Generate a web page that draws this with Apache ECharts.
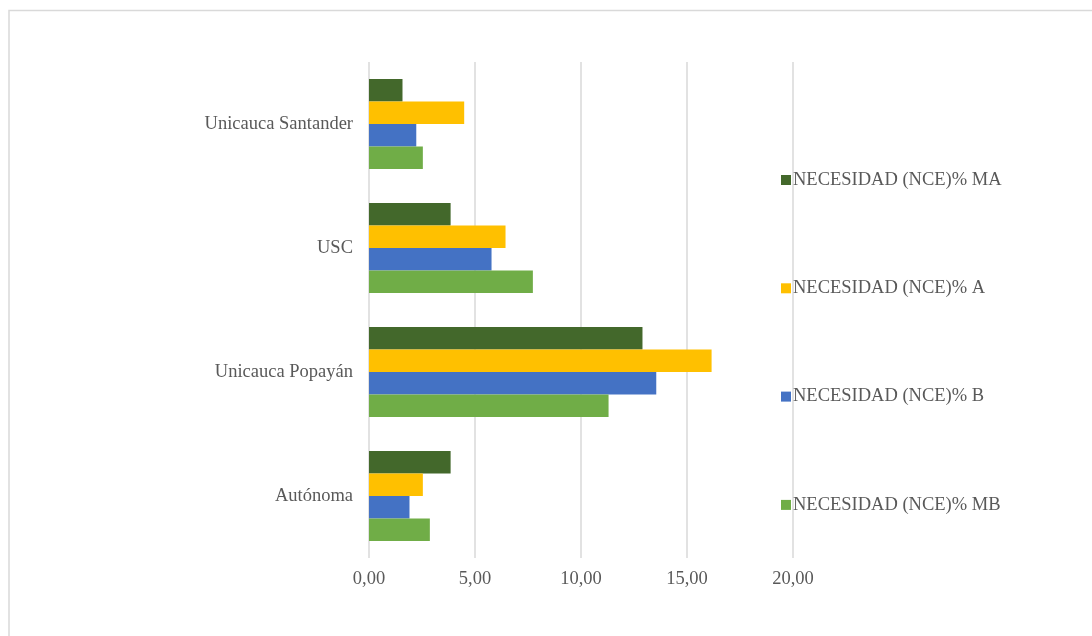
<!DOCTYPE html>
<html>
<head>
<meta charset="utf-8">
<script src="https://cdn.jsdelivr.net/npm/echarts@6/dist/echarts.min.js"></script>
<style>
  html, body { margin: 0; padding: 0; background: #fff; }
  #chart { width: 1092px; height: 636px; }
</style>
</head>
<body>
<div id="chart"></div>
<script>
const categories = ['Autónoma', 'Unicauca Popayán', 'USC', 'Unicauca Santander'];
// top to bottom within each group: MA, A, B, MB
const seriesNames = ['NECESIDAD (NCE)% MA', 'NECESIDAD (NCE)% A', 'NECESIDAD (NCE)% B', 'NECESIDAD (NCE)% MB'];
const valuesMA = [3.85, 12.9, 3.85, 1.58];
const valuesA = [2.54, 16.16, 6.44, 4.49];
const valuesB = [1.91, 13.55, 5.78, 2.23];
const valuesMB = [2.87, 11.3, 7.73, 2.54];
const colors = ['#43682B', '#FFC000', '#4472C4', '#70AD47'];

const font = '"Liberation Serif", "DejaVu Serif", serif';
const allValues = [valuesMA, valuesA, valuesB, valuesMB];

const chart = echarts.init(document.getElementById('chart'));
chart.setOption({
  animation: false,
  color: colors,
  graphic: [{
    type: 'rect',
    shape: {x: 9, y: 10.5, width: 1300, height: 900},
    style: {fill: 'none', stroke: '#d9d9d9', lineWidth: 1.5},
    silent: true
  }],
  grid: {left: 369, right: 299, top: 62, bottom: 78},
  legend: {
    orient: 'vertical',
    left: 781,
    top: 168,
    padding: 0,
    itemWidth: 10,
    itemHeight: 10,
    itemGap: 84.3,
    icon: 'rect',
    data: seriesNames,
    textStyle: {fontFamily: font, fontSize: 18.5, color: '#595959', lineHeight: 24, padding: [0, 0, 0, -3]}
  },
  xAxis: {
    type: 'value',
    min: 0,
    max: 20,
    interval: 5,
    axisLine: {show: false},
    axisTick: {show: false},
    axisLabel: {
      margin: 12,
      fontFamily: font,
      fontSize: 18.5,
      color: '#595959',
      formatter: v => v.toFixed(2).replace('.', ',')
    },
    splitLine: {lineStyle: {color: '#d9d9d9', width: 1.5}}
  },
  yAxis: {
    type: 'category',
    data: categories,
    axisLine: {show: false},
    axisTick: {show: false},
    axisLabel: {margin: 16, fontFamily: font, fontSize: 18.5, color: '#595959'}
  },
  series: seriesNames.map((name, i) => ({
    name: name,
    type: 'bar',
    data: allValues[i],
    barWidth: 22.5,
    barGap: '0%'
  }))
});
</script>
</body>
</html>
